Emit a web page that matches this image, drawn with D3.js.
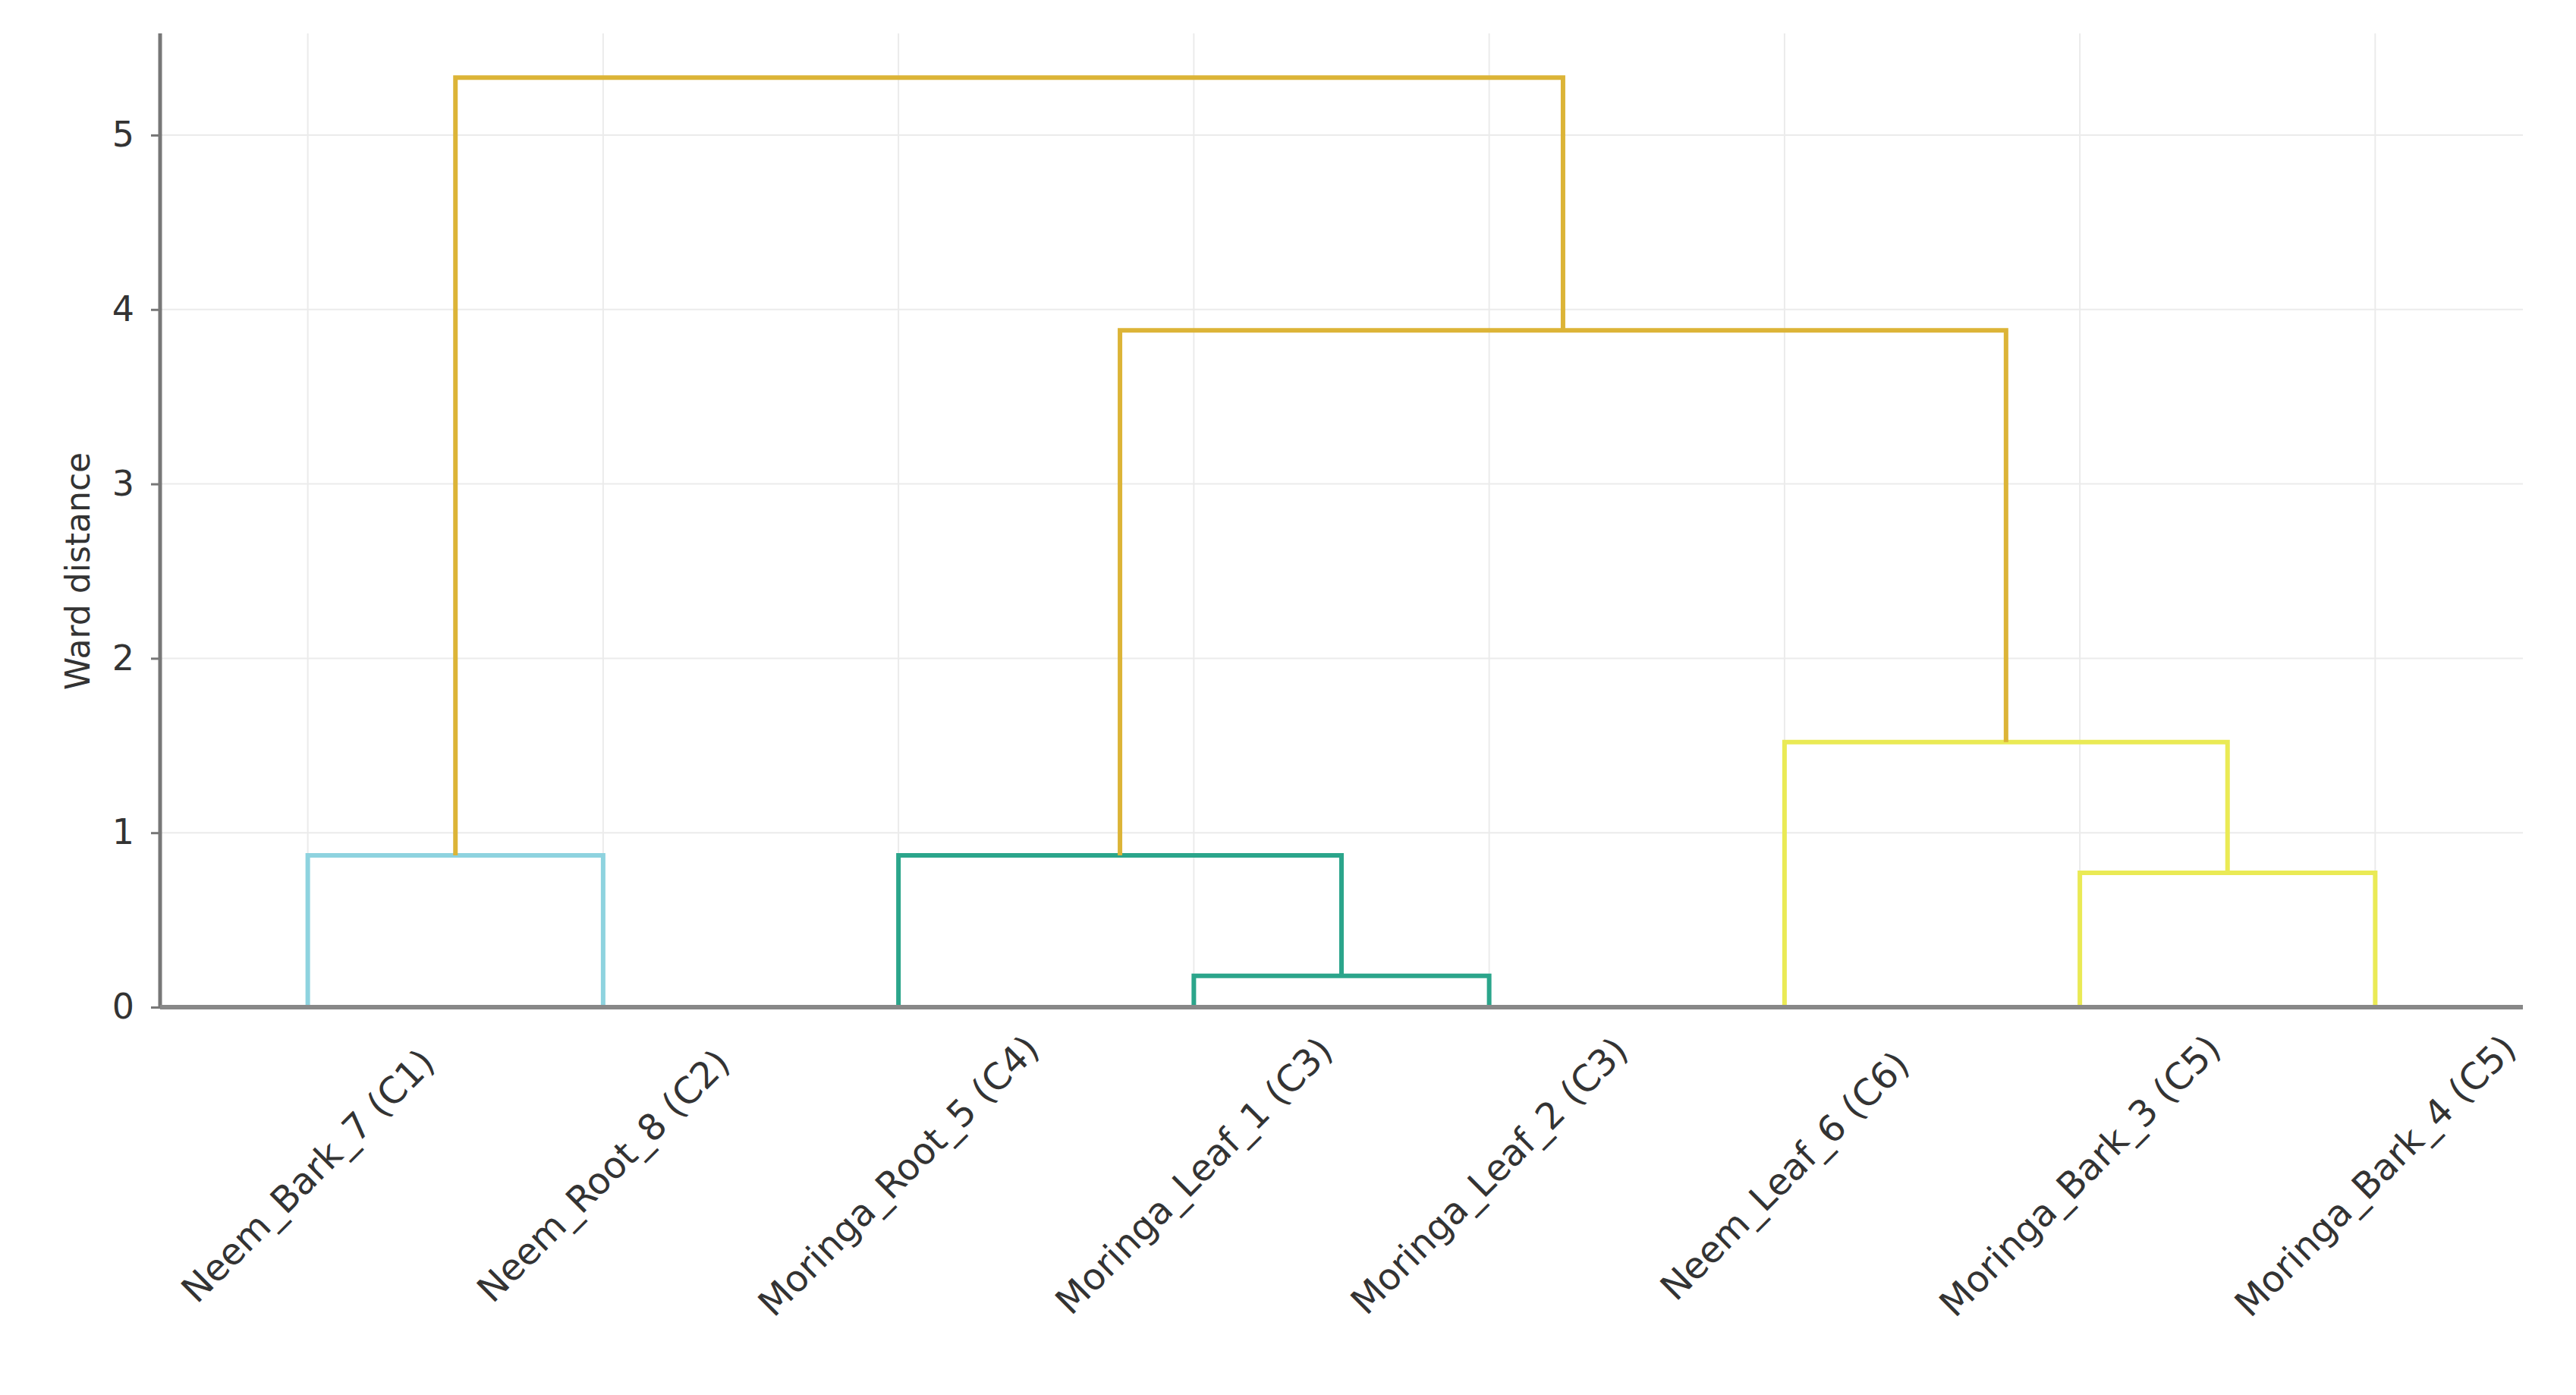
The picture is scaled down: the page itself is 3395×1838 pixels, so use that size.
<!DOCTYPE html>
<html><head><meta charset="utf-8">
<script src="https://cdn.jsdelivr.net/npm/d3@7"></script>
<style>body{margin:0;background:#fff}</style></head>
<body><svg id="c" width="3395" height="1838"></svg>
<script>
const leaves = ["Neem_Bark_7 (C1)","Neem_Root_8 (C2)","Moringa_Root_5 (C4)","Moringa_Leaf_1 (C3)","Moringa_Leaf_2 (C3)","Neem_Leaf_6 (C6)","Moringa_Bark_3 (C5)","Moringa_Bark_4 (C5)"];
// merges: children refer to leaf index (0..7) or merge index as "m#"
const mergeLeft   = [0, 3, 2, 6, 5, "m2", "m0"];
const mergeRight  = [1, 4, "m1", 7, "m3", "m4", "m5"];
const mergeHeight = [0.87, 0.18, 0.87, 0.77, 1.52, 3.88, 5.33];
const mergeColor  = ["#8ed3df","#2ba58b","#2ba58b","#eaea55","#eaea55","#dcb437","#dcb437"];
const yTicks = [0,1,2,3,4,5];

const svg = d3.select("#c");
const m = {l:211, r:3325, t:44, b:1327};
const x = d3.scaleBand().domain(leaves).range([m.l, m.r]);
const y = d3.scaleLinear().domain([0,5.583]).range([m.b, m.t]);

svg.append("g").selectAll("line").data(leaves).join("line")
  .attr("x1",d=>x(d)+x.bandwidth()/2).attr("x2",d=>x(d)+x.bandwidth()/2)
  .attr("y1",m.t).attr("y2",m.b).attr("stroke","#ebebeb").attr("stroke-width",2);
svg.append("g").selectAll("line").data(yTicks).join("line")
  .attr("x1",m.l).attr("x2",m.r).attr("y1",d=>y(d)).attr("y2",d=>y(d))
  .attr("stroke","#ebebeb").attr("stroke-width",2);

const pos = [];
function nodeXY(ref){
  if (typeof ref === "number") return {x: x(leaves[ref])+x.bandwidth()/2, h:0};
  return pos[+ref.slice(1)];
}
const g = svg.append("g").attr("fill","none").attr("stroke-width",6);
mergeHeight.forEach((h,i)=>{
  const a = nodeXY(mergeLeft[i]), b = nodeXY(mergeRight[i]);
  pos[i] = {x:(a.x+b.x)/2, h};
  const p = d3.path();
  p.moveTo(a.x, y(a.h)); p.lineTo(a.x, y(h)); p.lineTo(b.x, y(h)); p.lineTo(b.x, y(b.h));
  g.append("path").attr("d",p.toString()).attr("stroke",mergeColor[i]);
});

const ya = svg.append("g").attr("transform",`translate(${m.l},0)`)
  .call(d3.axisLeft(y).tickValues(yTicks).tickFormat(d3.format("d")).tickSize(12).tickPadding(22));
ya.select(".domain").attr("stroke","#777").attr("stroke-width",5).attr("d",`M0,${m.t}V${m.b}`);
ya.selectAll(".tick line").attr("stroke","#777").attr("stroke-width",3);
ya.selectAll("text").attr("font-family","DejaVu Sans").attr("font-size",46).attr("fill","#333");

const xa = svg.append("g").attr("transform",`translate(0,${m.b})`)
  .call(d3.axisBottom(x).tickSize(0).tickPadding(0));
xa.select(".domain").attr("stroke","#888").attr("stroke-width",6).attr("d",`M${m.l},0H${m.r}`);
xa.selectAll("text").attr("font-family","DejaVu Sans").attr("font-size",48).attr("fill","#333")
  .attr("text-anchor","middle").attr("dy","0.35em").attr("y",0)
  .attr("transform","translate(0,222) rotate(-45)");

svg.append("text").attr("transform",`translate(118,${y(2.5)}) rotate(-90)`)
  .attr("text-anchor","middle").attr("font-family","DejaVu Sans").attr("font-size",44)
  .attr("fill","#333").text("Ward distance");
</script></body></html>
